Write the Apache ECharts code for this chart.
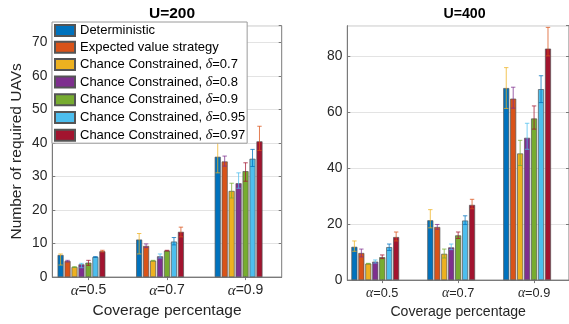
<!DOCTYPE html>
<html><head><meta charset="utf-8">
<script src="https://cdn.jsdelivr.net/npm/echarts@6/dist/echarts.min.js"></script>
<style>html,body{margin:0;padding:0;background:#fff}#c{width:569px;height:324px}</style>
</head><body><div id="c"></div>
<script>
// ---------------- data ----------------
const groupLabels = ['0.5', '0.7', '0.9'];
const groupPositions = [1, 2, 3];
const seriesNames = [
  'Deterministic',
  'Expected value strategy',
  'Chance Constrained, δ=0.7',
  'Chance Constrained, δ=0.8',
  'Chance Constrained, δ=0.9',
  'Chance Constrained, δ=0.95',
  'Chance Constrained, δ=0.97'
];
const seriesColors = ['#0072BD', '#D95319', '#EDB120', '#7E2F8E', '#77AC30', '#4DBEEE', '#A2142F'];

// U=200 : one row per series, values for alpha = 0.5, 0.7, 0.9
const u200Mean = [
  [6.6, 11.2, 35.9],
  [4.8, 9.3, 34.5],
  [3.0, 4.9, 25.7],
  [3.8, 6.2, 28.0],
  [4.3, 7.9, 31.6],
  [6.0, 10.6, 35.3],
  [7.7, 13.5, 40.5]
];
const u200Low = [
  [3.6, 6.9, 31.1],
  [4.5, 8.8, 33.1],
  [2.9, 4.8, 23.6],
  [2.8, 5.7, 26.5],
  [3.5, 7.8, 28.6],
  [5.9, 9.6, 33.0],
  [7.5, 12.0, 37.8]
];
const u200High = [
  [6.9, 13.0, 42.1],
  [5.0, 9.9, 36.1],
  [3.1, 5.0, 28.0],
  [4.1, 6.9, 31.1],
  [5.0, 8.0, 34.1],
  [6.1, 11.8, 38.1],
  [8.0, 14.9, 45.0]
];

// U=400
const u400Mean = [
  [11.9, 21.4, 68.7],
  [9.7, 19.0, 64.9],
  [5.9, 9.4, 45.3],
  [6.6, 11.7, 50.9],
  [8.2, 16.0, 57.8],
  [11.8, 21.3, 68.3],
  [15.4, 26.9, 82.8]
];
const u400Low = [
  [10.3, 18.7, 61.4],
  [8.3, 18.2, 61.5],
  [5.8, 7.9, 41.0],
  [6.1, 10.9, 46.8],
  [7.7, 14.9, 54.0],
  [10.6, 19.9, 63.5],
  [14.0, 25.5, 80.2]
];
const u400High = [
  [14.0, 25.2, 76.0],
  [11.1, 19.9, 69.0],
  [6.0, 11.1, 50.0],
  [7.2, 12.9, 56.1],
  [9.0, 17.2, 62.3],
  [12.9, 23.0, 73.1],
  [17.2, 28.9, 90.4]
];

const panelTitles = ['U=200', 'U=400'];
const yTicksLeft = {min: 0, max: 75, interval: 10};
const yTicksRight = {min: 0, max: 91, interval: 20};

// ---------------- styling ----------------
const SANS = 'Liberation Sans';
const SERIF = 'Liberation Serif';
const TXT = '#262626';
const AXC = '#7a7a7a';
const BAR_W = 6;
const BAR_GAP = 0.16;          // fraction of bar width
const PITCH = BAR_W * (1 + BAR_GAP);
const N_SLOTS = 9;             // 7 visible series + 2 empty slots (as in the original figure)
const CAP = 2.2;

const grids = [
  {left: 52.3, top: 25.7, width: 229.4, height: 259.3},
  {left: 347.3, top: 25.7, width: 224, height: 259.3}
];
const fontScale = [1, 0.91];

function xAxesFor(gi) {
  const fs = fontScale[gi];
  const bottom = {
    type: 'value', gridIndex: gi, position: 'bottom', min: 0.54, max: 3.46,
    axisLine: {show: true, lineStyle: {color: AXC, width: 1}},
    splitLine: {show: false},
    axisTick: {show: true, inside: true, length: 3, customValues: groupPositions, lineStyle: {color: AXC}},
    axisLabel: {
      customValues: groupPositions, margin: 6, color: TXT, fontFamily: SANS, fontSize: 14 * fs,
      formatter: v => '{a|α}=' + groupLabels[Math.round(v) - 1],
      rich: {a: {fontFamily: SERIF, fontStyle: 'italic', fontSize: 15 * fs, color: TXT}}
    },
    name: 'Coverage percentage', nameLocation: 'middle', nameGap: 20,
    nameTextStyle: {fontFamily: SANS, fontSize: 15.5 * fs, color: TXT}
  };
  const top = {
    type: 'value', gridIndex: gi, position: 'top', min: 0.54, max: 3.46,
    axisLine: {show: false}, splitLine: {show: false},
    axisTick: {show: true, inside: true, length: 3, customValues: groupPositions, lineStyle: {color: AXC}},
    axisLabel: {show: false}
  };
  return [bottom, top];
}

function yAxesFor(gi, ticks, withName) {
  const left = {
    type: 'value', gridIndex: gi, position: 'left',
    min: ticks.min, max: ticks.max, interval: ticks.interval,
    axisLine: {show: true, lineStyle: {color: AXC, width: 1}},
    axisTick: {show: true, inside: true, length: 3, lineStyle: {color: AXC}},
    splitLine: {show: true, lineStyle: {color: '#e3e3e3', width: 1}},
    axisLabel: {show: true, showMaxLabel: false, margin: 5, color: TXT, fontFamily: SANS, fontSize: 13.8}
  };
  if (withName) {
    left.name = 'Number of required UAVs';
    left.nameLocation = 'middle';
    left.nameGap = 28;
    left.nameTextStyle = {fontFamily: SANS, fontSize: 15.5, color: TXT};
  }
  const right = {
    type: 'value', gridIndex: gi, position: 'right',
    min: ticks.min, max: ticks.max, interval: ticks.interval,
    axisLine: {show: false}, splitLine: {show: false},
    axisTick: {show: true, inside: true, length: 3, lineStyle: {color: AXC}},
    axisLabel: {show: false}
  };
  return [left, right];
}

function barSeries(gi, means) {
  const out = [];
  for (let i = 0; i < N_SLOTS; i++) {
    const isReal = i < seriesNames.length;
    out.push({
      type: 'bar',
      name: isReal ? seriesNames[i] : 'slot' + i,
      xAxisIndex: gi * 2, yAxisIndex: gi * 2,
      barWidth: BAR_W, barGap: (BAR_GAP * 100) + '%',
      silent: true,
      itemStyle: isReal ? {color: seriesColors[i], borderColor: '#555555', borderWidth: 0.7} : {},
      emphasis: {disabled: true},
      data: isReal ? groupPositions.map((x, k) => [x, means[i][k]]) : []
    });
  }
  return out;
}

function errSeries(gi, lows, highs) {
  const out = [];
  for (let i = 0; i < seriesNames.length; i++) {
    const col = seriesColors[(i + 2) % seriesColors.length];
    out.push({
      type: 'custom',
      name: 'err' + gi + '_' + i,
      xAxisIndex: gi * 2, yAxisIndex: gi * 2,
      z: 5, silent: true,
      encode: {x: 0, y: [1, 2]},
      data: groupPositions.map((x, k) => [x, lows[i][k], highs[i][k]]),
      renderItem: (params, api) => {
        const hi = api.coord([api.value(0), api.value(2)]);
        const lo = api.coord([api.value(0), api.value(1)]);
        const x = hi[0] + (i - (N_SLOTS - 1) / 2) * PITCH;
        const st = {stroke: col, lineWidth: 1, opacity: 0.75};
        return {
          type: 'group',
          children: [
            {type: 'line', shape: {x1: x, y1: hi[1], x2: x, y2: lo[1]}, style: st},
            {type: 'line', shape: {x1: x - CAP, y1: hi[1], x2: x + CAP, y2: hi[1]}, style: st},
            {type: 'line', shape: {x1: x - CAP, y1: lo[1], x2: x + CAP, y2: lo[1]}, style: st}
          ]
        };
      }
    });
  }
  return out;
}

const chart = echarts.init(document.getElementById('c'), null, {renderer: 'canvas'});
chart.setOption({
  animation: false,
  backgroundColor: '#fff',
  title: [
    {text: panelTitles[0], left: 167, top: 1, textAlign: 'center',
     textStyle: {fontFamily: SANS, fontSize: 15.5, fontWeight: 'bold', color: '#000'}},
    {text: panelTitles[1], left: 459.5, top: 2, textAlign: 'center',
     textStyle: {fontFamily: SANS, fontSize: 14.2, fontWeight: 'bold', color: '#000'}}
  ],
  grid: grids.map(g => Object.assign({show: true, borderColor: AXC, borderWidth: 1, backgroundColor: 'transparent'}, g)),
  legend: {
    show: true, orient: 'vertical', left: 52, top: 22, z: 20,
    data: seriesNames,
    icon: 'rect', itemWidth: 20, itemHeight: 11, itemGap: 3.7,
    backgroundColor: '#fff', borderColor: '#9a9a9a', borderWidth: 1,
    padding: [2, 2, 1, 2],
    selectedMode: false,
    textStyle: {fontFamily: SANS, fontSize: 13, color: '#000', lineHeight: 13,
      rich: {d: {fontFamily: SERIF, fontStyle: 'italic', fontSize: 14, lineHeight: 13, color: '#000'}}},
    formatter: name => name.replace('δ', '{d|δ}')
  },
  xAxis: [...xAxesFor(0), ...xAxesFor(1)],
  yAxis: [...yAxesFor(0, yTicksLeft, true), ...yAxesFor(1, yTicksRight, false)],
  series: [
    ...barSeries(0, u200Mean), ...errSeries(0, u200Low, u200High),
    ...barSeries(1, u400Mean), ...errSeries(1, u400Low, u400High)
  ]
});
</script></body></html>
